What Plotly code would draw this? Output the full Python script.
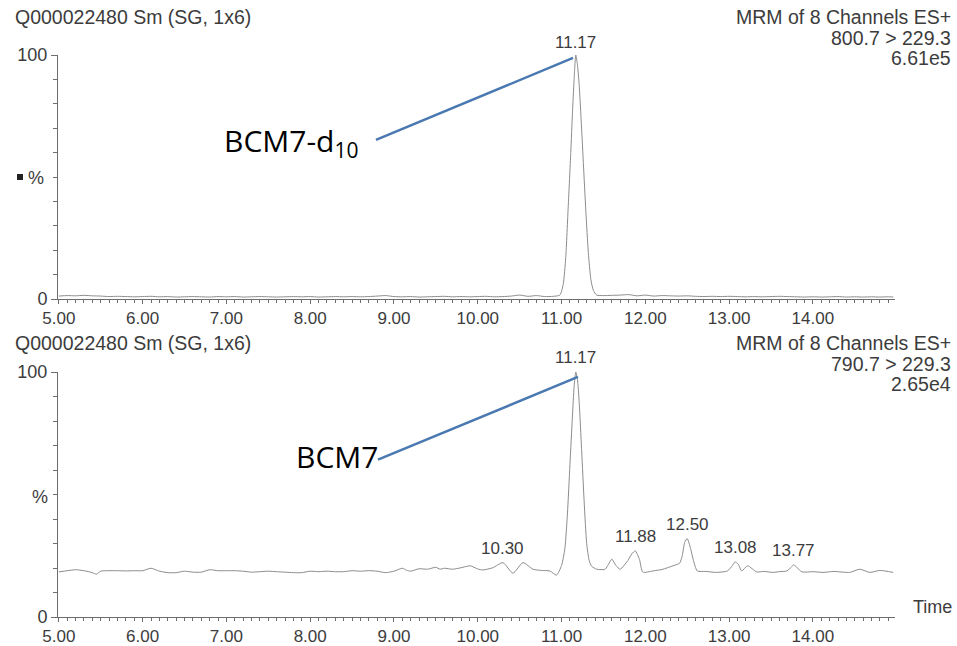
import plotly.graph_objects as go

# ---------------- data ----------------
# Top chromatogram: MRM 800.7 > 229.3 (BCM7-d10)
t_top = [5.00, 5.10, 5.20, 5.30, 5.40, 5.50, 5.60, 5.70, 5.80, 5.90,
         6.00, 6.10, 6.20, 6.30, 6.40, 6.50, 6.60, 6.70, 6.80, 6.90,
         7.00, 7.10, 7.20, 7.30, 7.40, 7.50, 7.60, 7.70, 7.80, 7.90,
         8.00, 8.10, 8.20, 8.30, 8.40, 8.50, 8.60, 8.70, 8.80, 8.90,
         9.00, 9.10, 9.20, 9.30, 9.40, 9.50, 9.60, 9.70, 9.80, 9.90,
         10.00, 10.10, 10.20, 10.30, 10.40, 10.50, 10.60, 10.70, 10.80, 10.90,
         10.98, 11.02, 11.05, 11.08, 11.11, 11.13, 11.15, 11.17, 11.19, 11.21,
         11.23, 11.26, 11.29, 11.32, 11.35, 11.38, 11.42, 11.50, 11.60, 11.70,
         11.80, 11.90, 12.00, 12.10, 12.20, 12.30, 12.40, 12.50, 12.60, 12.70,
         12.80, 12.90, 13.00, 13.10, 13.20, 13.30, 13.40, 13.50, 13.60, 13.70,
         13.80, 13.90, 14.00, 14.10, 14.20, 14.30, 14.40, 14.50, 14.60, 14.70,
         14.80, 14.90, 14.96]
i_top = [1.2, 1.4, 1.3, 1.5, 1.3, 1.2, 1.0, 1.1, 1.0, 0.9,
         1.0, 1.1, 0.9, 1.0, 0.8, 0.9, 1.0, 0.9, 0.8, 1.0,
         0.9, 1.0, 0.8, 0.9, 1.0, 0.9, 0.8, 0.9, 1.0, 0.9,
         1.0, 0.8, 0.9, 1.0, 0.9, 1.0, 0.9, 1.0, 1.2, 1.4,
         1.0, 0.9, 1.0, 0.8, 0.9, 1.0, 1.1, 0.9, 1.0, 0.9,
         1.0, 1.1, 0.9, 1.0, 1.2, 1.6, 1.1, 1.4, 1.0, 1.1,
         1.6, 6.0, 17.0, 38.0, 60.0, 76.0, 90.0, 100.0, 96.0, 88.0,
         76.0, 56.0, 36.0, 19.0, 8.0, 3.5, 1.6, 1.4, 1.5, 1.6,
         1.8, 1.3, 1.6, 1.2, 1.4, 1.3, 1.2, 1.3, 1.1, 1.0,
         1.1, 1.0, 1.1, 1.0, 0.9, 1.0, 0.9, 1.0, 1.1, 1.0,
         0.9, 0.8, 0.9, 0.8, 0.9, 1.0, 0.8, 0.9, 0.8, 0.9,
         0.8, 0.9, 0.8]

# Bottom chromatogram: MRM 790.7 > 229.3 (BCM7)
t_bot = [5.00, 5.10, 5.20, 5.30, 5.40, 5.45, 5.50, 5.60, 5.70, 5.80,
         5.90, 6.00, 6.10, 6.20, 6.30, 6.40, 6.50, 6.60, 6.70, 6.80,
         6.90, 7.00, 7.10, 7.20, 7.30, 7.40, 7.50, 7.60, 7.70, 7.80,
         7.90, 8.00, 8.10, 8.20, 8.30, 8.40, 8.50, 8.60, 8.70, 8.80,
         8.90, 9.00, 9.10, 9.15, 9.20, 9.30, 9.40, 9.50, 9.55, 9.60,
         9.70, 9.80, 9.91, 10.00, 10.06, 10.18, 10.30, 10.42, 10.54, 10.66,
         10.76, 10.86, 10.94, 11.00, 11.04, 11.07, 11.10, 11.13, 11.15, 11.17,
         11.19, 11.21, 11.24, 11.27, 11.30, 11.33, 11.36, 11.42, 11.52, 11.56,
         11.60, 11.65, 11.70, 11.79, 11.84, 11.88, 11.93, 11.97, 12.09, 12.20,
         12.33, 12.41, 12.44, 12.47, 12.50, 12.54, 12.57, 12.62, 12.72, 12.85,
         12.98, 13.04, 13.07, 13.11, 13.15, 13.22, 13.33, 13.42, 13.52, 13.60,
         13.69, 13.74, 13.77, 13.81, 13.87, 14.00, 14.12, 14.25, 14.36, 14.44,
         14.56, 14.68, 14.80, 14.96]
i_bot = [18.4, 18.9, 19.3, 18.9, 18.1, 17.5, 18.7, 18.9, 18.9, 18.8,
         18.9, 18.9, 19.9, 18.7, 18.1, 18.1, 18.7, 18.3, 18.3, 19.3,
         18.9, 18.9, 18.9, 18.7, 18.3, 18.5, 18.7, 18.5, 18.3, 18.1,
         18.1, 18.7, 18.5, 18.7, 18.5, 18.5, 18.9, 18.7, 18.9, 18.7,
         18.1, 18.7, 19.9, 19.1, 18.7, 19.7, 19.5, 20.3, 19.5, 19.9,
         19.5, 20.1, 20.9, 19.6, 19.2, 20.1, 22.2, 17.9, 22.2, 19.5,
         19.0, 18.8, 17.1, 21.0, 28.0, 42.0, 62.0, 82.0, 94.0, 100.0,
         97.0, 88.0, 68.0, 47.0, 30.0, 23.0, 20.7, 19.5, 19.5, 21.5,
         23.6, 21.0, 19.5, 23.0, 25.8, 27.0, 23.5, 18.3, 18.8, 19.4,
         20.9, 22.0, 25.0, 30.5, 32.0, 28.0, 23.6, 18.8, 18.6, 18.2,
         18.8, 21.0, 22.5, 21.5, 18.8, 20.9, 18.4, 18.6, 18.2, 18.5,
         18.8, 20.3, 21.3, 20.2, 18.4, 18.5, 18.2, 18.6, 18.3, 18.2,
         19.5, 18.2, 19.0, 18.2]

# Peak labels
top_peaks_t = [11.17]
top_peaks_v = [100.0]
bot_peaks_t = [11.17, 10.30, 11.88, 12.50, 13.08, 13.77]
bot_peaks_v = [100.0, 22.2, 27.0, 32.0, 22.5, 21.3]

x_ticks = [5, 6, 7, 8, 9, 10, 11, 12, 13, 14]
x_tick_text = ["5.00", "6.00", "7.00", "8.00", "9.00", "10.00", "11.00", "12.00", "13.00", "14.00"]

W, H = 957, 646
def px(x):
    return x / W
def py(y):
    return 1 - y / H

TXT = "#3c3c3c"
AX = "#6e6e6e"
TRACE = "#8c8c8c"
FONT = "Liberation Sans, Arial, sans-serif"
BLUE = "#4a78b0"

fig = go.Figure()
fig.add_trace(go.Scatter(x=t_top, y=i_top, mode="lines", line=dict(color=TRACE, width=1, shape="spline", smoothing=0.6),
                         xaxis="x", yaxis="y", hoverinfo="skip"))
fig.add_trace(go.Scatter(x=t_bot, y=i_bot, mode="lines", line=dict(color=TRACE, width=1, shape="spline", smoothing=0.6),
                         xaxis="x2", yaxis="y2", hoverinfo="skip"))

xr = [4.99, 14.98]
xdom = [px(58), px(895)]

def xaxis_cfg(anchor):
    return dict(domain=xdom, range=xr, anchor=anchor, showline=True, linecolor=AX, linewidth=1,
                ticks="outside", ticklen=4, tickcolor=AX, tickvals=x_ticks, ticktext=x_tick_text,
                tickfont=dict(family=FONT, size=17, color=TXT), automargin=False,
                minor=dict(ticks="outside", ticklen=3, tickcolor=AX, tickmode="linear", tick0=5, dtick=0.1),
                showgrid=False, zeroline=False, fixedrange=True)

def yaxis_cfg(anchor, dom):
    return dict(domain=dom, range=[0, 100], anchor=anchor, showline=True, linecolor=AX, linewidth=1,
                ticks="outside", ticklen=6, tickcolor=AX, tickvals=[0, 100], ticktext=["0", "100"],
                tickfont=dict(family=FONT, size=18, color=TXT), automargin=False,
                minor=dict(ticks="outside", ticklen=4, tickcolor=AX, tickmode="linear", tick0=0, dtick=10),
                showgrid=False, zeroline=False, fixedrange=True)

annotations = []
def txt(x, y, s, xanchor="left", size=19.5, color=TXT, family=FONT, yanchor="middle"):
    annotations.append(dict(x=px(x), y=py(y), xref="paper", yref="paper", text=s, showarrow=False,
                            xanchor=xanchor, yanchor=yanchor,
                            font=dict(family=family, size=size, color=color)))

# headers
txt(13, 17, "Q000022480 Sm (SG, 1x6)")
txt(953, 17, "MRM of 8 Channels ES+", xanchor="right")
txt(953, 38, "800.7 &gt; 229.3", xanchor="right")
txt(953, 58, "6.61e5", xanchor="right")
txt(13, 343, "Q000022480 Sm (SG, 1x6)")
txt(953, 343, "MRM of 8 Channels ES+", xanchor="right")
txt(953, 364, "790.7 &gt; 229.3", xanchor="right")
txt(953, 384, "2.65e4", xanchor="right")
# y labels
txt(36, 178, "%", xanchor="center", size=18)
txt(40, 497, "%", xanchor="center", size=18)
txt(932, 607, "Time", xanchor="center", size=18)

# compound labels
txt(222, 142, "BCM7-d<sub>10</sub>", size=30, color="#000000", family="Open Sans, sans-serif")
txt(294, 457, "BCM7", size=30, color="#000000", family="Open Sans, sans-serif")

# peak labels
for t, v in zip(top_peaks_t, top_peaks_v):
    annotations.append(dict(x=t, y=v, xref="x", yref="y", text=f"{t:.2f}", showarrow=False,
                            xanchor="center", yanchor="bottom", yshift=1,
                            font=dict(family=FONT, size=17, color=TXT)))
for t, v in zip(bot_peaks_t, bot_peaks_v):
    annotations.append(dict(x=t, y=v, xref="x2", yref="y2", text=f"{t:.2f}", showarrow=False,
                            xanchor="center", yanchor="bottom", yshift=3,
                            font=dict(family=FONT, size=17, color=TXT)))

shapes = [
    dict(type="line", xref="x", yref="y", x0=8.785, y0=65.2, x1=11.137, y1=98.8,
         line=dict(color=BLUE, width=2.5)),
    dict(type="line", xref="x2", yref="y2", x0=8.809, y0=64.2, x1=11.196, y1=98.0,
         line=dict(color=BLUE, width=2.5)),
    # small black marker beside the top "%" label
    dict(type="rect", xref="paper", yref="paper", x0=px(17), x1=px(23), y0=py(180), y1=py(174),
         fillcolor="#222222", line=dict(width=0)),
]

fig.update_layout(
    width=W, height=H, margin=dict(l=0, r=0, t=0, b=0, autoexpand=False),
    paper_bgcolor="white", plot_bgcolor="white", showlegend=False,
    xaxis=xaxis_cfg("y"),
    yaxis=yaxis_cfg("x", [py(299), py(55)]),
    xaxis2=xaxis_cfg("y2"),
    yaxis2=yaxis_cfg("x2", [py(617), py(372)]),
    annotations=annotations, shapes=shapes,
)

fig.write_html("out.html")
